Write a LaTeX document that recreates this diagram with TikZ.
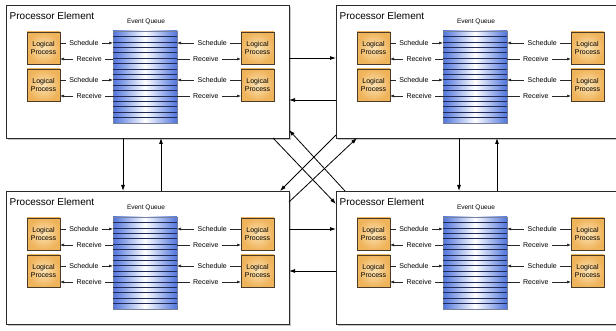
\documentclass[tikz,border=0pt]{standalone}
\usepackage{fontspec}
\setmainfont{Liberation Sans}
\usetikzlibrary{arrows.meta,shadows,calc}
\definecolor{qblue}{HTML}{4F74DC}
\definecolor{qline}{HTML}{1E2A55}
\definecolor{lporange}{HTML}{EFB35A}
\definecolor{lplight}{HTML}{FCE3B4}
\definecolor{lpborder}{HTML}{4A3A28}
\definecolor{peborder}{HTML}{2A2A2A}
\tikzset{
  pebox/.style={draw=peborder, line width=0.9pt, fill=white, minimum width=283pt,
    minimum height=133pt, inner sep=0pt, outer sep=0pt, anchor=north west,
    drop shadow={shadow xshift=1.6pt, shadow yshift=-1.6pt, opacity=0.45}},
  petitle/.style={font=\fontsize{10}{12}\selectfont, anchor=west, inner sep=0pt},
  evtitle/.style={font=\fontsize{6.5}{8}\selectfont, inner sep=0pt},
  queuebox/.style={draw=qline!60, line width=0.5pt, left color=qblue, right color=qblue,
    middle color=white, minimum width=64pt, minimum height=92pt, inner sep=0pt,
    outer sep=0pt, anchor=north west},
  slotline/.style={draw=qline, line width=0.6pt},
  lpbox/.style={draw=lpborder, line width=0.8pt, inner color=lplight, outer color=lporange,
    minimum width=33pt, minimum height=32pt, inner sep=0pt, outer sep=0pt,
    anchor=north west, align=center, font=\fontsize{7}{8.5}\selectfont},
  lbl/.style={fill=white, inner xsep=3.5pt, inner ysep=1pt, font=\fontsize{7}{8}\selectfont, pos=0.45},
  inar/.style={draw=black!85, line width=0.6pt, -{Latex[length=4pt,width=3pt]}},
  pear/.style={draw=black, line width=0.8pt, -{Latex[length=6pt,width=4pt]}},
}
\newcommand\procelem[3]{%
  \node[pebox] (#1) at (#2,#3) {};
  \begin{scope}[shift={(#2,#3)}]
    \node[petitle] (#1-t) at (3.5,10.5) {Processor Element};
    \node[evtitle] (#1-e) at (140,16.7) {Event Queue};
    \node[queuebox] (#1-q) at (107,26) {};
    \foreach \k in {1,...,16}
      \draw[slotline] ($(#1-q.north west)+(0,\k*5.412)$) -- ($(#1-q.north east)+(0,\k*5.412)$);
    \node[lpbox] (#1-l1) at (21,27) {Logical\\Process};
    \node[lpbox] (#1-l2) at (21,64) {Logical\\Process};
    \node[lpbox] (#1-l3) at (235,27) {Logical\\Process};
    \node[lpbox] (#1-l4) at (235,64) {Logical\\Process};
    \coordinate (#1-s1) at (0,38);
    \coordinate (#1-r1) at (0,54);
    \coordinate (#1-s2) at (0,75);
    \coordinate (#1-r2) at (0,91);
    \draw[inar] (#1-l1.east |- #1-s1) -- node[lbl]{Schedule} (#1-q.west |- #1-s1);
    \draw[inar] (#1-q.west |- #1-r1) -- node[lbl]{Receive} (#1-l1.east |- #1-r1);
    \draw[inar] (#1-l2.east |- #1-s2) -- node[lbl]{Schedule} (#1-q.west |- #1-s2);
    \draw[inar] (#1-q.west |- #1-r2) -- node[lbl]{Receive} (#1-l2.east |- #1-r2);
    \draw[inar] (#1-l3.west |- #1-s1) -- node[lbl]{Schedule} (#1-q.east |- #1-s1);
    \draw[inar] (#1-q.east |- #1-r1) -- node[lbl]{Receive} (#1-l3.west |- #1-r1);
    \draw[inar] (#1-l4.west |- #1-s2) -- node[lbl]{Schedule} (#1-q.east |- #1-s2);
    \draw[inar] (#1-q.east |- #1-r2) -- node[lbl]{Receive} (#1-l4.west |- #1-r2);
  \end{scope}}
\begin{document}
\begin{tikzpicture}[x=1pt,y=-1pt]
  \useasboundingbox (0,0) rectangle (616,331);
  \procelem{TL}{6}{5}
  \procelem{TR}{336}{5}
  \procelem{BL}{6}{191}
  \procelem{BR}{336}{191}
  % horizontal links
  \draw[pear] ($(TL.north east)+(0,53)$) -- ($(TR.north west)+(0,53)$);
  \draw[pear] ($(TR.north west)+(0,95)$) -- ($(TL.north east)+(0,95)$);
  \draw[pear] ($(BL.north east)+(0,38)$) -- ($(BR.north west)+(0,38)$);
  \draw[pear] ($(BR.north west)+(0,80)$) -- ($(BL.north east)+(0,80)$);
  % vertical links
  \draw[pear] ($(TL.south west)+(117,0)$) -- ($(BL.north west)+(117,0)$);
  \draw[pear] ($(BL.north west)+(155,0)$) -- ($(TL.south west)+(155,0)$);
  \draw[pear] ($(TR.south west)+(123,0)$) -- ($(BR.north west)+(123,0)$);
  \draw[pear] ($(BR.north west)+(161,0)$) -- ($(TR.south west)+(161,0)$);
  % diagonal links
  \draw[pear] ($(TL.south east)+(-16,0)$) -- ($(BR.north west)+(0,13)$);
  \draw[pear] ($(BR.north west)+(9,0)$) -- ($(TL.south east)+(0,-8)$);
  \draw[pear] ($(TR.south west)+(0,-3)$) -- ($(BL.north east)+(-9,0)$);
  \draw[pear] ($(BL.north east)+(0,11)$) -- ($(TR.south west)+(21,0)$);
\end{tikzpicture}
\end{document}
